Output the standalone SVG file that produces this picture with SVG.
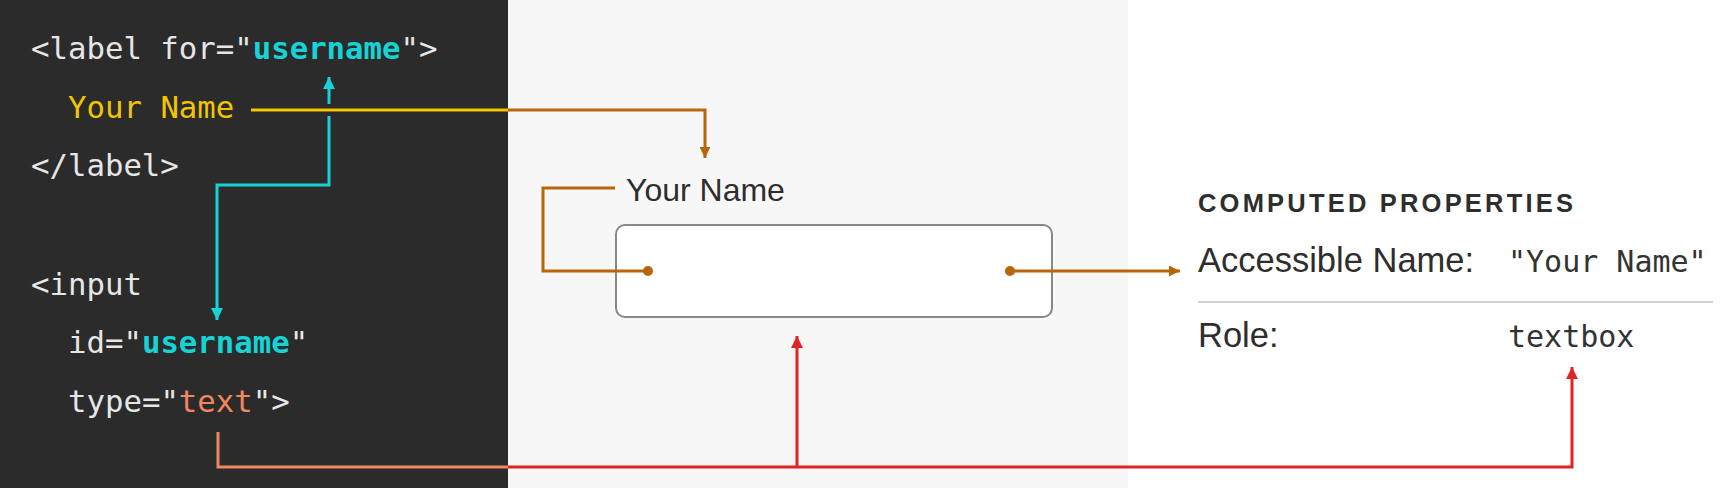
<svg xmlns="http://www.w3.org/2000/svg" width="1732" height="488" viewBox="0 0 1732 488">
<style>
.code{font-family:"DejaVu Sans Mono",monospace;font-size:30.7px;fill:#e6e6e6}
.cy{fill:#17d3d6;font-weight:bold}
.ye{fill:#f2c500}
.sa{fill:#f0875f}
.sans{font-family:"Liberation Sans",Arial,sans-serif;fill:#2e2e2e}
.mono{font-family:"DejaVu Sans Mono",monospace;font-size:30px;fill:#333}
.ln{fill:none;stroke-width:3}
</style>
<defs>
<marker id="aCy" markerUnits="userSpaceOnUse" markerWidth="12" markerHeight="12" viewBox="0 0 10 10" refX="10" refY="5" orient="auto"><path d="M0,0L10,5L0,10z" fill="#17d3d6"/></marker>
<marker id="aBr" markerUnits="userSpaceOnUse" markerWidth="11" markerHeight="11" viewBox="0 0 10 10" refX="10" refY="5" orient="auto"><path d="M0,0L10,5L0,10z" fill="#b8650c"/></marker>
<marker id="aRd" markerUnits="userSpaceOnUse" markerWidth="12" markerHeight="12" viewBox="0 0 10 10" refX="10" refY="5" orient="auto"><path d="M0,0L10,5L0,10z" fill="#e02424"/></marker>
</defs>
<rect x="0" y="0" width="1732" height="488" fill="#ffffff"/>
<rect x="0" y="0" width="508" height="488" fill="#2b2b2b"/>
<rect x="508" y="0" width="620" height="488" fill="#f7f7f7"/>

<g id="code">
<text class="code" x="31" y="59">&lt;label for="<tspan class="cy">username</tspan>"&gt;</text>
<text class="code" x="68" y="118"><tspan class="ye">Your Name</tspan></text>
<text class="code" x="31" y="176">&lt;/label&gt;</text>
<text class="code" x="31" y="295">&lt;input</text>
<text class="code" x="68" y="353">id="<tspan class="cy">username</tspan>"</text>
<text class="code" x="68" y="412">type="<tspan class="sa">text</tspan>"&gt;</text>
</g>

<g id="label-preview">
<text class="sans" x="626" y="201" font-size="32">Your Name</text>
</g>

<g id="input-box">
<rect x="616" y="225" width="436" height="92" rx="9" fill="#ffffff" stroke="#888888" stroke-width="2"/>
<circle cx="648" cy="271" r="5" fill="#b8650c"/>
<circle cx="1010" cy="271" r="5" fill="#b8650c"/>
</g>

<g id="properties">
<text class="sans" x="1198" y="212" font-size="25.5" font-weight="bold" letter-spacing="3.2">COMPUTED PROPERTIES</text>
<text class="sans" x="1198" y="272" font-size="34.5">Accessible Name:</text>
<text class="mono" x="1508" y="272">"Your Name"</text>
<line x1="1198" y1="302" x2="1713" y2="302" stroke="#d2d2d2" stroke-width="2"/>
<text class="sans" x="1198" y="347" font-size="34.5">Role:</text>
<text class="mono" x="1508" y="347">textbox</text>
</g>

<g id="connectors">
<path class="ln" d="M251,110H508" stroke="#f2c500"/>
<path class="ln" d="M508,110H705V158" stroke="#b8650c" marker-end="url(#aBr)"/>
<path class="ln" d="M329,104V77" stroke="#17d3d6" marker-end="url(#aCy)"/>
<path class="ln" d="M329,116V185H217V320" stroke="#17d3d6" marker-end="url(#aCy)"/>
<path class="ln" d="M615,188H543V271H648" stroke="#b8650c"/>
<path class="ln" d="M1010,271H1180" stroke="#b8650c" marker-end="url(#aBr)"/>
<path class="ln" d="M218,432V467H508" stroke="#f0875f"/>
<path class="ln" d="M508,467H1572V367" stroke="#e02424" marker-end="url(#aRd)"/>
<path class="ln" d="M797,467V336" stroke="#e02424" marker-end="url(#aRd)"/>
</g>
</svg>
